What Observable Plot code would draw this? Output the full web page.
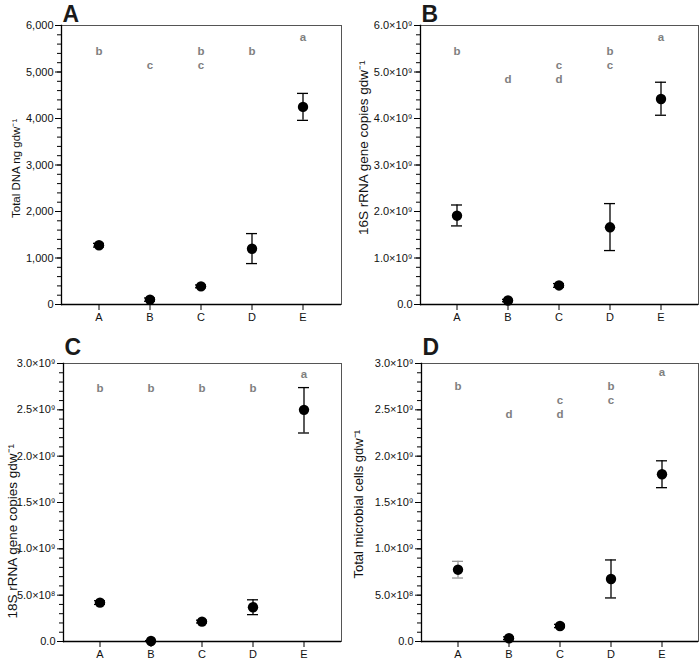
<!DOCTYPE html>
<html><head><meta charset="utf-8">
<script src="https://cdn.jsdelivr.net/npm/d3@7"></script>
<script src="https://cdn.jsdelivr.net/npm/@observablehq/plot@0.6"></script>
<style>
body{margin:0;background:#fff;}
#wrap{position:relative;width:700px;height:660px;font-family:"Liberation Sans",Arial,sans-serif;}
.panel{position:absolute;}
.panel svg{overflow:visible;}
</style></head><body><div id="wrap"></div>
<script>
// ---- data ----
const categories = ["A", "B", "C", "D", "E"];

// Panel A: Total DNA (ng gdw-1)
const dnaMean = [1275, 105, 390, 1200, 4250];
const dnaLo   = [1235, 70, 360, 880, 3960];
const dnaHi   = [1315, 140, 420, 1525, 4540];
const dnaLetters = ["b", "c", "bc", "b", "a"];

// Panel B: 16S rRNA gene copies gdw-1
const s16Mean = [1.91e9, 0.085e9, 0.41e9, 1.66e9, 4.42e9];
const s16Lo   = [1.69e9, 0.06e9, 0.37e9, 1.16e9, 4.07e9];
const s16Hi   = [2.14e9, 0.11e9, 0.45e9, 2.17e9, 4.78e9];
const s16Letters = ["b", "d", "cd", "bc", "a"];

// Panel C: 18S rRNA gene copies gdw-1
const s18Mean = [0.42e9, 0.005e9, 0.215e9, 0.37e9, 2.50e9];
const s18Lo   = [0.40e9, 0.0, 0.20e9, 0.29e9, 2.25e9];
const s18Hi   = [0.44e9, 0.01e9, 0.23e9, 0.45e9, 2.74e9];
const s18Letters = ["b", "b", "b", "b", "a"];

// Panel D: Total microbial cells gdw-1
const cellMean = [0.775e9, 0.035e9, 0.167e9, 0.675e9, 1.805e9];
const cellLo   = [0.685e9, 0.02e9, 0.15e9, 0.47e9, 1.66e9];
const cellHi   = [0.865e9, 0.05e9, 0.185e9, 0.88e9, 1.95e9];
const cellLetters = ["b", "d", "cd", "bc", "a"];

const panelTags = ["A", "B", "C", "D"];
const yLabels = ["Total DNA ng gdw⁻¹", "16S rRNA gene copies gdw⁻¹", "18S rRNA gene copies gdw⁻¹", "Total microbial cells gdw⁻¹"];
const yMax = [6000, 6e9, 3e9, 3e9];
const yMajorStep = [1000, 1e9, 0.5e9, 0.5e9];
const yMinorStep = [200, 0.2e9, 0.1e9, 0.1e9];

// ---- helpers ----
const supDigits = {"0":"⁰","1":"¹","2":"²","3":"³","4":"⁴","5":"⁵","6":"⁶","7":"⁷","8":"⁸","9":"⁹","-":"⁻"};
function sciFmt(v) {
  if (v === 0) return "0.0";
  const e = Math.floor(Math.log10(v) + 1e-9);
  const m = v / Math.pow(10, e);
  return m.toFixed(1) + "×10" + String(e).split("").map(c => supDigits[c]).join("");
}
const commaFmt = d3.format(",");

const layouts = [
  {left: 0,   top: 0,   mL: 61, mR: 9, mT: 25, mB: 26, lblDx: -45, lblDy: 53,  lblSize: 11.5, tagDx: 1, tagDy: -4, letTop: 12, fmt: commaFmt},
  {left: 350, top: 0,   mL: 70, mR: 2, mT: 25, mB: 26, lblDx: -57, lblDy: 70,  lblSize: 13.5, tagDx: 1, tagDy: -4, letTop: 12, fmt: sciFmt},
  {left: 0,   top: 330, mL: 63, mR: 9, mT: 33, mB: 19, lblDx: -51, lblDy: 116, lblSize: 13.5, tagDx: 1, tagDy: -9, letTop: 11, fmt: sciFmt},
  {left: 350, top: 330, mL: 71, mR: 2, mT: 33, mB: 19, lblDx: -63, lblDy: 76,  lblSize: 13,   tagDx: 1, tagDy: -9, letTop: 9,  fmt: sciFmt}
];
const series = [
  [dnaMean, dnaLo, dnaHi, dnaLetters],
  [s16Mean, s16Lo, s16Hi, s16Letters],
  [s18Mean, s18Lo, s18Hi, s18Letters],
  [cellMean, cellLo, cellHi, cellLetters]
];

const wrap = document.getElementById("wrap");
const font = '"Liberation Sans", Arial, sans-serif';

series.forEach(([mean, lo, hi, letters], p) => {
  const L = layouts[p];
  const rows = categories.map((c, i) => ({cat: c, mean: mean[i], lo: lo[i], hi: hi[i], grey: p === 3 && c === "A"}));
  const letterRows = categories.flatMap((c, i) => letters[i].split("").map(l => ({cat: c, letter: l})));
  const majors = d3.range(0, yMax[p] + yMajorStep[p] / 2, yMajorStep[p]);
  const minors = d3.range(0, yMax[p] + yMinorStep[p] / 2, yMinorStep[p]);
  const errStroke = d => d.grey ? "#999" : "black";
  const letterMarks = ["a", "b", "c", "d"].map((l, k) =>
    Plot.text(letterRows.filter(d => d.letter === l), {
      x: "cat", text: "letter", frameAnchor: "top", lineAnchor: "middle",
      dy: L.letTop + k * 14, fill: "#808080", fontSize: 11.5, fontWeight: "bold"
    })
  );
  const chart = Plot.plot({
    width: 350, height: 330,
    marginLeft: L.mL, marginRight: L.mR, marginTop: L.mT, marginBottom: L.mB,
    style: {fontFamily: font, fontSize: "11px", color: "#000", background: "transparent"},
    x: {type: "band", domain: categories, padding: 0.385, label: null},
    y: {domain: [0, yMax[p]], label: null},
    marks: [
      Plot.frame({stroke: "#555"}),
      Plot.axisY({ticks: minors, tickSize: 4, tickFormat: () => "", label: null, stroke: "black"}),
      Plot.axisY({ticks: majors, tickSize: 6, tickPadding: 2, tickFormat: L.fmt, label: null, fontSize: 11, fill: "#111", stroke: "black"}),
      Plot.axisX({tickSize: 6, tickPadding: 3, label: null, fontSize: 11, fill: "#111", stroke: "black"}),
      Plot.ruleY([0], {stroke: "black", strokeWidth: 1.3}),
      Plot.frame({anchor: "left", stroke: "black", strokeWidth: 1.3}),
      Plot.ruleX(rows, {x: "cat", y1: "lo", y2: "hi", stroke: errStroke, strokeWidth: 1.3}),
      Plot.tickY(rows, {x: "cat", y: "lo", insetLeft: 10, insetRight: 10, stroke: errStroke, strokeWidth: 1.3}),
      Plot.tickY(rows, {x: "cat", y: "hi", insetLeft: 10, insetRight: 10, stroke: errStroke, strokeWidth: 1.3}),
      Plot.dot(rows, {x: "cat", y: "mean", r: 5.2, fill: "black", stroke: "none"}),
      ...letterMarks,
      Plot.text([yLabels[p]], {frameAnchor: "left", rotate: -90, dx: L.lblDx, dy: L.lblDy, fontSize: L.lblSize, fill: "#111", textAnchor: "start", lineAnchor: "middle"}),
      Plot.text([panelTags[p]], {frameAnchor: "top-left", textAnchor: "start", lineAnchor: "bottom", dx: L.tagDx, dy: L.tagDy, fontSize: 23, fontWeight: "bold", fill: "#1a1a1a"})
    ]
  });
  const div = document.createElement("div");
  div.className = "panel";
  div.style.left = L.left + "px";
  div.style.top = L.top + "px";
  div.appendChild(chart);
  wrap.appendChild(div);
});
</script></body></html>
